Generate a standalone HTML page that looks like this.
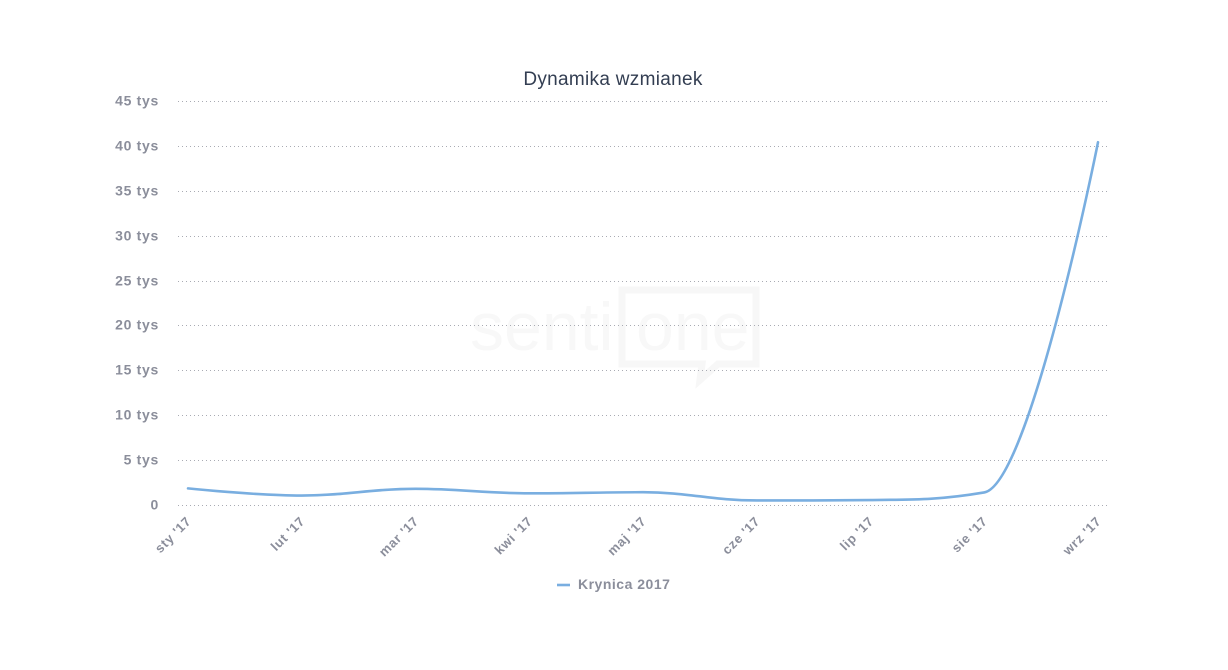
<!DOCTYPE html>
<html><head><meta charset="utf-8"><style>
html,body{margin:0;padding:0;background:#fff;width:1228px;height:670px;overflow:hidden}
svg{display:block}
.yl{font-family:"Liberation Sans",sans-serif;font-weight:bold;font-size:14px;fill:#8b8e9b;letter-spacing:0.7px}
.xl{font-family:"Liberation Sans",sans-serif;font-weight:bold;font-size:13px;fill:#8b8e9b;letter-spacing:0.7px}
</style></head><body>
<svg id="c" width="1228" height="670" viewBox="0 0 1228 670" xmlns="http://www.w3.org/2000/svg">
<rect width="1228" height="670" fill="#fff"/>
<!-- watermark -->
<g>
<text x="470" y="350" font-family="Liberation Sans,sans-serif" font-size="68" fill="#f8f8f8">senti</text>
<path d="M622 290 H756 V364 H718 L700 380 L702 364 H622 Z" fill="none" stroke="#f7f7f7" stroke-width="7"/>
<text x="636" y="350" font-family="Liberation Sans,sans-serif" font-size="68" fill="#f8f8f8">one</text>
</g>
<text x="613" y="85" text-anchor="middle" font-family="Liberation Sans,sans-serif" font-size="19px" fill="#333e52" letter-spacing="0.3">Dynamika wzmianek</text>
<g id="grid" stroke="#a9abb3" stroke-width="1" stroke-dasharray="1 3"></g>
<g id="ylab"></g>
<g id="xlab"></g>
<path id="line" fill="none" stroke="#79aee0" stroke-width="2.6" stroke-linejoin="round" stroke-linecap="round"/>
<line x1="557" y1="585" x2="570" y2="585" stroke="#79aee0" stroke-width="2.6"/>
<text x="578" y="589" font-family="Liberation Sans,sans-serif" font-weight="bold" font-size="14px" fill="#8b8e9b" letter-spacing="0.5">Krynica 2017</text>
</svg>
<script>
(function(){
var NS="http://www.w3.org/2000/svg";
function el(t,a,p,txt){var e=document.createElementNS(NS,t);for(var k in a)e.setAttribute(k,a[k]);if(txt!==undefined)e.textContent=txt;p.appendChild(e);return e;}
var g=document.getElementById('grid'),yl=document.getElementById('ylab'),xl=document.getElementById('xlab');
function Y(v){return 504.5-v*8.956;}
for(var i=0;i<=9;i++){
  var y=Math.round(Y(i*5))+0.5;
  el('line',{x1:178,y1:y,x2:1109,y2:y},g);
  el('text',{x:159,y:y+4,'text-anchor':'end','class':'yl'},yl,i==0?'0':(i*5)+' tys');
}
var labs=["sty '17","lut '17","mar '17","kwi '17","maj '17","cze '17","lip '17","sie '17","wrz '17"];
var vals=[1.8,1.0,1.75,1.25,1.37,0.45,0.5,1.35,40.45];
var pts=[];
for(var i=0;i<9;i++){
  var x=188+i*113.75;
  pts.push([x,Y(vals[i])]);
  var ax=x+4,ay=522;
  el('text',{x:ax,y:ay,'text-anchor':'end','class':'xl',transform:'rotate(-45 '+ax+' '+ay+')'},xl,labs[i]);
}
// Highcharts spline
var sm=1.5,den=2.5,lc=[],rc=[];
for(var i=0;i<pts.length;i++){
  var p=pts[i];
  if(i==0||i==pts.length-1){lc.push([p[0],p[1]]);rc.push([p[0],p[1]]);continue;}
  var l=pts[i-1],n=pts[i+1];
  var lx=(sm*p[0]+l[0])/den,ly=(sm*p[1]+l[1])/den,rx=(sm*p[0]+n[0])/den,ry=(sm*p[1]+n[1])/den;
  if(rx!==lx){var c=((ry-ly)*(rx-p[0]))/(rx-lx)+p[1]-ry;ly+=c;ry+=c;}
  if(ly>l[1]&&ly>p[1]){ly=Math.max(l[1],p[1]);ry=2*p[1]-ly;}
  else if(ly<l[1]&&ly<p[1]){ly=Math.min(l[1],p[1]);ry=2*p[1]-ly;}
  if(ry>n[1]&&ry>p[1]){ry=Math.max(n[1],p[1]);ly=2*p[1]-ry;}
  else if(ry<n[1]&&ry<p[1]){ry=Math.min(n[1],p[1]);ly=2*p[1]-ry;}
  lc.push([lx,ly]);rc.push([rx,ry]);
}
var d='M'+pts[0][0]+' '+pts[0][1];
for(var i=1;i<pts.length;i++){
  d+=' C'+rc[i-1][0]+' '+rc[i-1][1]+' '+lc[i][0]+' '+lc[i][1]+' '+pts[i][0]+' '+pts[i][1];
}
document.getElementById('line').setAttribute('d',d);
})();
</script>
</body></html>
